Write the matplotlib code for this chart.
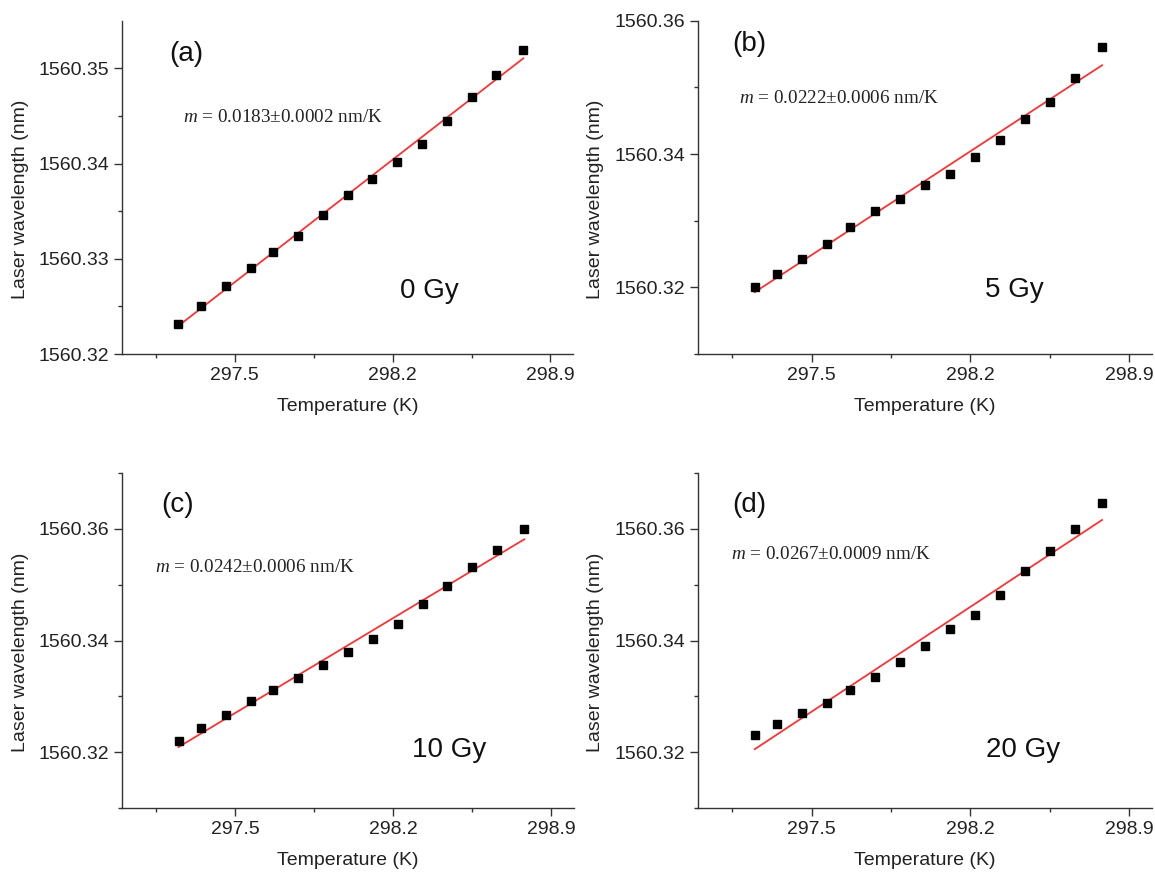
import numpy as np
import matplotlib
matplotlib.use("Agg")
import matplotlib.pyplot as plt
from matplotlib.ticker import FixedLocator, FormatStrFormatter

plt.rcParams['font.family'] = ['Liberation Sans', 'DejaVu Sans']
plt.rcParams['mathtext.fontset'] = 'custom'
plt.rcParams['mathtext.it'] = 'Liberation Serif:italic'
plt.rcParams['mathtext.rm'] = 'Liberation Serif'

# temperatures (K), same for every panel
temp = [297.25, 297.35, 297.46, 297.57, 297.67, 297.78, 297.89, 298.00,
        298.11, 298.22, 298.33, 298.44, 298.55, 298.66, 298.78]

# laser wavelength (nm) for each dose
wl_0gy = [1560.3232, 1560.3250, 1560.3271, 1560.3290, 1560.3307, 1560.3324,
          1560.3346, 1560.3367, 1560.3384, 1560.3402, 1560.3420, 1560.3445,
          1560.3470, 1560.3493, 1560.3519]
wl_5gy = [1560.3200, 1560.3220, 1560.3243, 1560.3265, 1560.3290, 1560.3315,
          1560.3332, 1560.3353, 1560.3370, 1560.3395, 1560.3421, 1560.3452,
          1560.3478, 1560.3514, 1560.3560]
wl_10gy = [1560.3220, 1560.3243, 1560.3266, 1560.3291, 1560.3311, 1560.3332,
           1560.3357, 1560.3379, 1560.3403, 1560.3429, 1560.3466, 1560.3498,
           1560.3531, 1560.3562, 1560.3600]
wl_20gy = [1560.3231, 1560.3251, 1560.3270, 1560.3288, 1560.3311, 1560.3334,
           1560.3361, 1560.3390, 1560.3420, 1560.3446, 1560.3481, 1560.3525,
           1560.3560, 1560.3600, 1560.3647]

panel_tags = ['(a)', '(b)', '(c)', '(d)']
dose_labels = ['0 Gy', '5 Gy', '10 Gy', '20 Gy']
slope_labels = ['0.0183±0.0002', '0.0222±0.0006', '0.0242±0.0006', '0.0267±0.0009']

ylims = [(1560.32, 1560.355), (1560.31, 1560.36), (1560.31, 1560.37), (1560.31, 1560.37)]
ymajor = [[1560.32, 1560.33, 1560.34, 1560.35],
          [1560.32, 1560.34, 1560.36],
          [1560.32, 1560.34, 1560.36],
          [1560.32, 1560.34, 1560.36]]
yminor = [[1560.325, 1560.335, 1560.345],
          [1560.31, 1560.33, 1560.35],
          [1560.31, 1560.33, 1560.35, 1560.37],
          [1560.31, 1560.33, 1560.35, 1560.37]]
xmajor = [297.5, 298.2, 298.9]
xminor = [297.15, 297.85, 298.55]

series = [wl_0gy, wl_5gy, wl_10gy, wl_20gy]

# axes boxes in pixels (left, top, right, bottom)
W, H = 1155, 872
boxes = [(122, 20.7, 573, 354), (698, 20.7, 1152, 354),
         (122, 473, 574, 808), (698, 473, 1152, 808)]
# text positions (axes fraction): tag, slope, dose
tag_pos = [(0.105, 0.88), (0.076, 0.91), (0.086, 0.883), (0.076, 0.884)]
slope_pos = [(0.136, 0.697), (0.090, 0.753), (0.073, 0.704), (0.073, 0.743)]
dose_pos = [(0.616, 0.168), (0.633, 0.172), (0.641, 0.152), (0.634, 0.152)]

fig = plt.figure(figsize=(11.55, 8.72), dpi=100)
axc = '#333333'

for i in range(4):
    x0, y0, x1, y1 = boxes[i]
    ax = fig.add_axes([x0 / W, 1 - y1 / H, (x1 - x0) / W, (y1 - y0) / H])
    y = series[i]
    k, b = np.polyfit(temp, y, 1)
    tt = np.array([temp[0], temp[-1]])
    ax.plot(tt, k * tt + b, color='#f53535', lw=1.3, zorder=2)
    ax.plot(temp, y, 's', color='black', ms=6.2, zorder=3)

    ax.set_xlim(297.0, 299.0)
    ax.set_ylim(*ylims[i])
    ax.xaxis.set_major_locator(FixedLocator(xmajor))
    ax.xaxis.set_minor_locator(FixedLocator(xminor))
    ax.yaxis.set_major_locator(FixedLocator(ymajor[i]))
    ax.yaxis.set_minor_locator(FixedLocator(yminor[i]))
    ax.xaxis.set_major_formatter(FormatStrFormatter('%.1f'))
    ax.yaxis.set_major_formatter(FormatStrFormatter('%.2f'))

    for s in ['top', 'right']:
        ax.spines[s].set_visible(False)
    for s in ['left', 'bottom']:
        ax.spines[s].set_color(axc)
        ax.spines[s].set_linewidth(1.0)
    ax.tick_params(which='major', direction='out', length=5.5, width=1.0,
                   color=axc, labelsize=14, labelcolor='#222222', pad=4)
    ax.tick_params(which='minor', direction='out', length=3, width=1.0, color=axc)

    ax.set_xlabel('Temperature (K)', fontsize=14, color='#222222')
    ax.set_ylabel('Laser wavelength (nm)', fontsize=14, color='#222222')
    ax.xaxis.set_label_coords(0.5, -0.158)
    ax.xaxis.label.set_verticalalignment('center')
    ax.yaxis.set_label_coords(-0.225, 0.465)
    ax.yaxis.label.set_verticalalignment('center')

    ax.text(*tag_pos[i], panel_tags[i], transform=ax.transAxes, fontsize=20,
            va='baseline', ha='left', color='#111111')
    ax.text(*slope_pos[i], r'$\mathit{m}$ = ' + slope_labels[i] + ' nm/K',
            transform=ax.transAxes, fontsize=13.8, family='Liberation Serif',
            va='baseline', ha='left', color='#222222')
    ax.text(*dose_pos[i], dose_labels[i], transform=ax.transAxes, fontsize=20,
            va='baseline', ha='left', color='#111111')

fig.savefig('out.png', dpi=100)
